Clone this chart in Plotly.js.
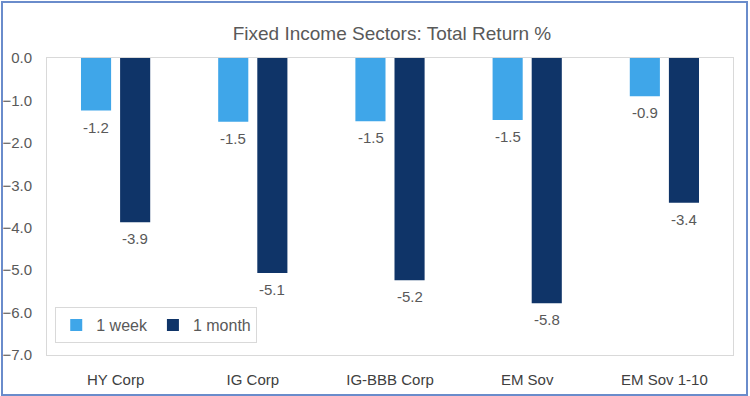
<!DOCTYPE html>
<html>
<head>
<meta charset="utf-8">
<script src="https://cdn.plot.ly/plotly-3.0.1.min.js"></script>
<style>
html, body { margin:0; padding:0; background:#fff; }
#wrap { position:relative; width:750px; height:396px; }
#chart { width:750px; height:396px; }
#frame { position:absolute; left:1px; top:1px; width:743px; height:391px; border:2px solid #6a8ccb; pointer-events:none; }
</style>
</head>
<body>
<div id="wrap"><div id="chart"></div><div id="frame"></div></div>
<script>
const categories = ["HY Corp", "IG Corp", "IG-BBB Corp", "EM Sov", "EM Sov 1-10"];
const weekReturn = [-1.24, -1.50, -1.49, -1.46, -0.90];
const monthReturn = [-3.87, -5.07, -5.24, -5.78, -3.41];
const seriesNames = ["1 week", "1 month"];
const yTicks = [0, -1, -2, -3, -4, -5, -6, -7];

const labelFont = {family: "Liberation Sans, Arial, sans-serif", size: 15, color: "#595959"};

const traces = [
  {type: "bar", name: seriesNames[0], x: categories, y: weekReturn,
   marker: {color: "#3fa6e9"}, hoverinfo: "none"},
  {type: "bar", name: seriesNames[1], x: categories, y: monthReturn,
   marker: {color: "#0f3468"}, hoverinfo: "none"}
];

const annotations = [];
[weekReturn, monthReturn].forEach((vals, si) => {
  vals.forEach((v, i) => {
    annotations.push({
      x: categories[i], y: v, xref: "x", yref: "y",
      text: v.toFixed(1), showarrow: false,
      xshift: si === 0 ? -19.5 : 19.5, yshift: -6,
      yanchor: "top", xanchor: "center",
      font: labelFont
    });
  });
});

const layout = {
  width: 750, height: 396,
  margin: {l: 47, r: 17, t: 58, b: 41},
  paper_bgcolor: "#ffffff", plot_bgcolor: "#ffffff",
  barmode: "group", bargap: 0.43, bargroupgap: 0.23,
  title: {text: "Fixed Income Sectors: Total Return %", x: 392/750, xanchor: "center",
          y: 1 - 33/396, yanchor: "middle",
          font: {family: "Liberation Sans, Arial, sans-serif", size: 19, color: "#595959"}},
  xaxis: {type: "category", showline: true, linecolor: "#d9d9d9", linewidth: 1, mirror: true,
          showgrid: false, zeroline: false, ticks: "", ticklabelstandoff: 11,
          tickfont: {family: "Liberation Sans, Arial, sans-serif", size: 15, color: "#404040"},
          fixedrange: true},
  yaxis: {range: [-7, 0], tickvals: yTicks, tickformat: ".1f", showline: true, linecolor: "#d9d9d9",
          linewidth: 1, mirror: true, showgrid: false, zeroline: false, ticks: "", ticklabelstandoff: 11,
          tickfont: {family: "Liberation Sans, Arial, sans-serif", size: 15, color: "#595959"},
          fixedrange: true},
  showlegend: true,
  legend: {orientation: "h", x: 0.012, y: 0.04, xanchor: "left", yanchor: "bottom",
           bordercolor: "#d9d9d9", borderwidth: 1, bgcolor: "#ffffff",
           font: {family: "Liberation Sans, Arial, sans-serif", size: 16, color: "#595959"},
           itemwidth: 30, traceorder: "normal"},
  annotations: annotations
};

Plotly.newPlot("chart", traces, layout, {displayModeBar: false, staticPlot: true});
</script>
</body>
</html>
